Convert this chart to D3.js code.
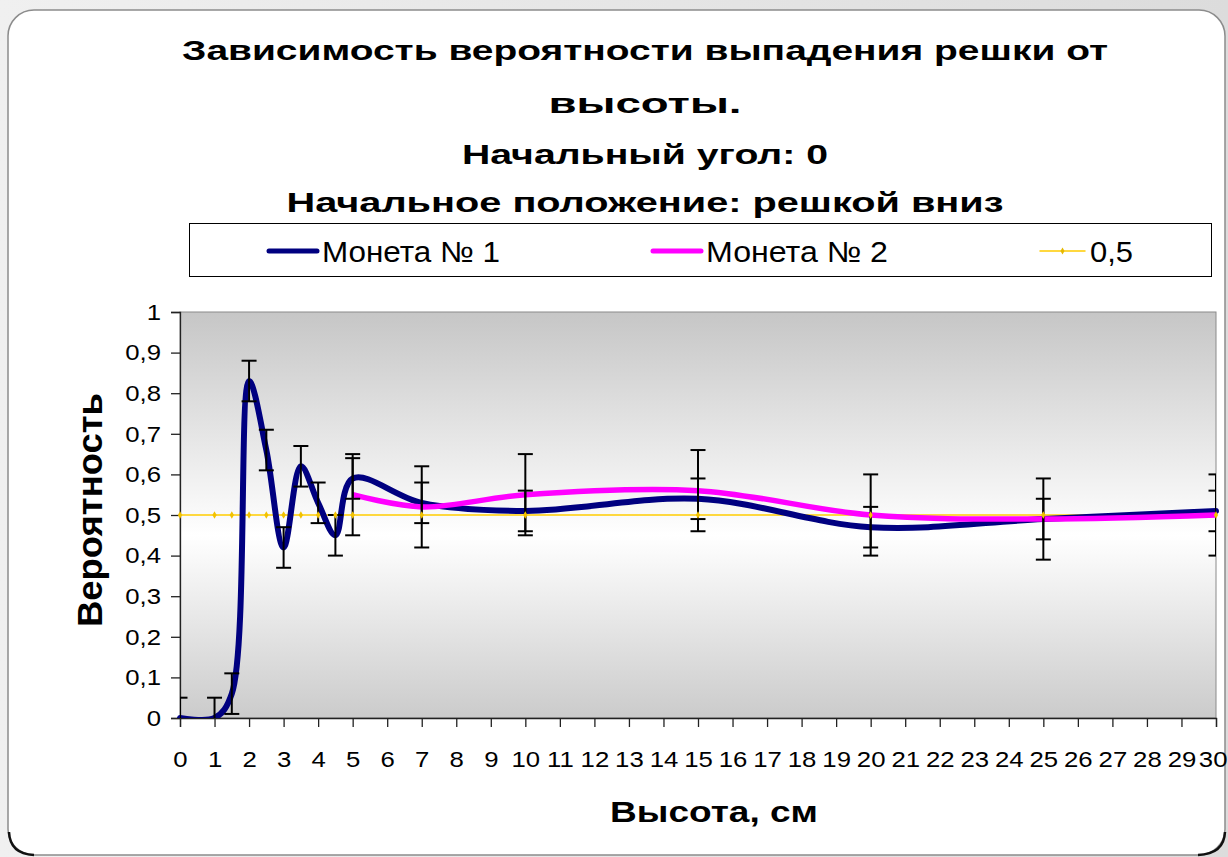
<!DOCTYPE html>
<html>
<head>
<meta charset="utf-8">
<script src="https://cdn.jsdelivr.net/npm/d3@7"></script>
<style>
  body { margin: 0; background: #e3e3e3; }
  svg { display: block; font-family: "Liberation Sans", Arial, sans-serif; }
</style>
</head>
<body>
<div id="chart"></div>
<script>
// values
const heights = [0, 1, 1.5, 2, 2.5, 3, 3.5, 4, 4.5, 5, 7, 10, 15, 20, 25, 30];
const coin1 = [0, 0, 0.06, 0.83, 0.66, 0.42, 0.62, 0.53, 0.45, 0.59, 0.53, 0.51, 0.54, 0.47, 0.49, 0.51];
const coin1Err = 0.05;

const heights2 = [5, 7, 10, 15, 20, 25, 30];
const coin2 = [0.55, 0.52, 0.55, 0.56, 0.50, 0.49, 0.50];
const coin2Err = 0.1;

const halfLevel = heights.map(() => 0.5);

const seriesNames = ["Монета № 1", "Монета № 2", "0,5"];
const titleLines = [
  "Зависимость вероятности выпадения решки от",
  "высоты.",
  "Начальный угол: 0",
  "Начальное положение: решкой вниз",
];
const yTitle = "Вероятность";
const xTitle = "Высота, см";
const xTicks = d3.range(0, 31);
const yTicks = [0, 0.1, 0.2, 0.3, 0.4, 0.5, 0.6, 0.7, 0.8, 0.9, 1];

const width = 1228, height = 857;
const plot = { left: 180, right: 1216, top: 312, bottom: 718 };
const stretch = 1.12; // the slide text is drawn wide

const x = d3.scaleLinear().domain([0, 30]).range([plot.left, plot.right]);
const y = d3.scaleLinear().domain([0, 1]).range([plot.bottom, plot.top]);
const fmt = (v) => d3.format("~g")(v).replace(".", ",");

const svg = d3.select("#chart").append("svg")
  .attr("width", width).attr("height", height);

const defs = svg.append("defs");
const bg = defs.append("linearGradient").attr("id", "plotbg")
  .attr("x1", 0).attr("y1", 0).attr("x2", 0).attr("y2", 1);
bg.append("stop").attr("offset", "0%").attr("stop-color", "#c6c6c6");
bg.append("stop").attr("offset", "55%").attr("stop-color", "#ffffff");
bg.append("stop").attr("offset", "100%").attr("stop-color", "#cbcbcb");

const outer = defs.append("linearGradient").attr("id", "outerbg")
  .attr("x1", 0).attr("y1", 0).attr("x2", 1).attr("y2", 0);
outer.append("stop").attr("offset", "0%").attr("stop-color", "#f0f0f0");
outer.append("stop").attr("offset", "100%").attr("stop-color", "#dcdcdc");

defs.append("clipPath").attr("id", "plotclip")
  .append("rect")
  .attr("x", plot.left).attr("y", plot.top)
  .attr("width", plot.right - plot.left).attr("height", plot.bottom - plot.top);
// lines may stick out at the sides and top, not below the axis
defs.append("clipPath").attr("id", "lineclip")
  .append("rect")
  .attr("x", plot.left - 10).attr("y", plot.top - 10)
  .attr("width", plot.right - plot.left + 20).attr("height", plot.bottom - plot.top + 10);

// slide background and panel
svg.append("rect").attr("width", width).attr("height", height).attr("fill", "url(#outerbg)");
svg.append("rect")
  .attr("x", 8).attr("y", 10).attr("width", 1217).attr("height", 845)
  .attr("rx", 26).attr("fill", "#fff").attr("stroke", "#8c8c8c").attr("stroke-width", 1.5);
// dark rim at the two lower corners
svg.append("path")
  .attr("d", "M9,832 Q10,854 34,855")
  .attr("fill", "none").attr("stroke", "#111").attr("stroke-width", 2.5);
svg.append("path")
  .attr("d", "M1198,855 Q1224,854 1225,832")
  .attr("fill", "none").attr("stroke", "#111").attr("stroke-width", 2.5);

// title
const titleBase = [60, 113, 164, 212];
const titleLen = [926, 193, 366, 717];
svg.append("g").selectAll("text").data(titleLines).join("text")
  .attr("x", 645).attr("y", (d, i) => titleBase[i])
  .attr("text-anchor", "middle")
  .attr("font-size", 28).attr("font-weight", "bold")
  .attr("textLength", (d, i) => titleLen[i]).attr("lengthAdjust", "spacingAndGlyphs")
  .text((d) => d);

// legend
const legend = svg.append("g");
legend.append("rect")
  .attr("x", 189.5).attr("y", 223.5).attr("width", 1022).attr("height", 53)
  .attr("fill", "#fff").attr("stroke", "#000");
const legendItems = [
  { name: seriesNames[0], color: "#000080", w: 5, x0: 269, x1: 317, len: 178 },
  { name: seriesNames[1], color: "#ff00ff", w: 5, x0: 653, x1: 701, len: 182 },
  { name: seriesNames[2], color: "#ffcc00", w: 1.5, x0: 1040, x1: 1085, len: 43 },
];
const li = legend.selectAll("g").data(legendItems).join("g");
li.append("line")
  .attr("x1", (d) => d.x0).attr("x2", (d) => d.x1)
  .attr("y1", 251).attr("y2", 251)
  .attr("stroke", (d) => d.color).attr("stroke-width", (d) => d.w)
  .attr("stroke-linecap", "round");
li.append("text")
  .attr("x", (d) => d.x1 + 5).attr("y", 262)
  .attr("font-size", 29)
  .attr("textLength", (d) => d.len).attr("lengthAdjust", "spacingAndGlyphs")
  .text((d) => d.name);
legend.append("path")
  .attr("d", d3.symbol(d3.symbolDiamond, 14)())
  .attr("transform", "translate(1062.5,251)")
  .attr("fill", "#e6b800");

// plot area
svg.append("rect")
  .attr("x", plot.left).attr("y", plot.top)
  .attr("width", plot.right - plot.left).attr("height", plot.bottom - plot.top)
  .attr("fill", "url(#plotbg)").attr("stroke", "#8a8a8a");

// axes
const yAxis = d3.axisLeft(y).tickValues(yTicks).tickFormat(fmt).tickSize(9).tickPadding(8);
const gy = svg.append("g").attr("transform", `translate(${plot.left},0)`).call(yAxis);
const xAxis = d3.axisBottom(x).tickValues(xTicks).tickFormat(fmt).tickSize(9).tickPadding(24);
const gx = svg.append("g").attr("transform", `translate(0,${plot.bottom})`).call(xAxis);
[gx, gy].forEach((g) => {
  g.select(".domain").attr("stroke", "#222").attr("stroke-width", 1.3);
  g.selectAll(".tick line").attr("stroke", "#222").attr("stroke-width", 1.3);
  g.selectAll("text").attr("font-size", 23).attr("fill", "#000")
    .attr("font-family", "Liberation Sans, Arial, sans-serif")
    .attr("transform", `scale(${stretch},1)`);
});
// the last label sits right at the slide edge
gx.selectAll(".tick text").filter((d) => d === 30).attr("dx", -3);

// axis titles
svg.append("text")
  .attr("transform", `translate(102,510) scale(1.15,1) rotate(-90)`)
  .attr("text-anchor", "middle")
  .attr("font-size", 30).attr("font-weight", "bold")
  .attr("textLength", 234).attr("lengthAdjust", "spacingAndGlyphs")
  .text(yTitle);
svg.append("text")
  .attr("x", 714).attr("y", 822)
  .attr("text-anchor", "middle")
  .attr("font-size", 30).attr("font-weight", "bold")
  .attr("textLength", 208).attr("lengthAdjust", "spacingAndGlyphs")
  .text(xTitle);

// series
const smooth = d3.line().x((d) => x(d[0])).y((d) => y(d[1])).curve(d3.curveCatmullRom.alpha(0.5));
const s1 = d3.zip(heights, coin1);
const s2 = d3.zip(heights2, coin2);
const s3 = d3.zip(heights, halfLevel);

const lines = svg.append("g").attr("clip-path", "url(#lineclip)");

lines.append("path").datum(s3)
  .attr("d", d3.line().x((d) => x(d[0])).y((d) => y(d[1])))
  .attr("fill", "none").attr("stroke", "#ffcc00").attr("stroke-width", 1.6);

lines.append("path").datum(s1)
  .attr("d", smooth).attr("fill", "none")
  .attr("stroke", "#000080").attr("stroke-width", 6)
  .attr("stroke-linejoin", "round").attr("stroke-linecap", "round");

lines.append("path").datum(s2)
  .attr("d", smooth).attr("fill", "none")
  .attr("stroke", "#ff00ff").attr("stroke-width", 5.5)
  .attr("stroke-linejoin", "round");

// error bars
const errG = svg.append("g").attr("clip-path", "url(#plotclip)")
  .attr("stroke", "#000").attr("stroke-width", 2);
const bars = s1.map((d) => ({ x: d[0], v: d[1], e: coin1Err }))
  .concat(s2.map((d) => ({ x: d[0], v: d[1], e: coin2Err })));
const eb = errG.selectAll("g").data(bars).join("g");
eb.append("line")
  .attr("x1", (d) => x(d.x)).attr("x2", (d) => x(d.x))
  .attr("y1", (d) => y(d.v + d.e)).attr("y2", (d) => y(d.v - d.e));
eb.append("line")
  .attr("x1", (d) => x(d.x) - 7.5).attr("x2", (d) => x(d.x) + 7.5)
  .attr("y1", (d) => y(d.v + d.e)).attr("y2", (d) => y(d.v + d.e));
eb.append("line")
  .attr("x1", (d) => x(d.x) - 7.5).attr("x2", (d) => x(d.x) + 7.5)
  .attr("y1", (d) => y(d.v - d.e)).attr("y2", (d) => y(d.v - d.e));

// 0,5 markers
svg.append("g").selectAll("path").data(s3).join("path")
  .attr("d", d3.symbol(d3.symbolDiamond, 16)())
  .attr("transform", (d) => `translate(${x(d[0])},${y(d[1])})`)
  .attr("fill", "#f2c200");
</script>
</body>
</html>
